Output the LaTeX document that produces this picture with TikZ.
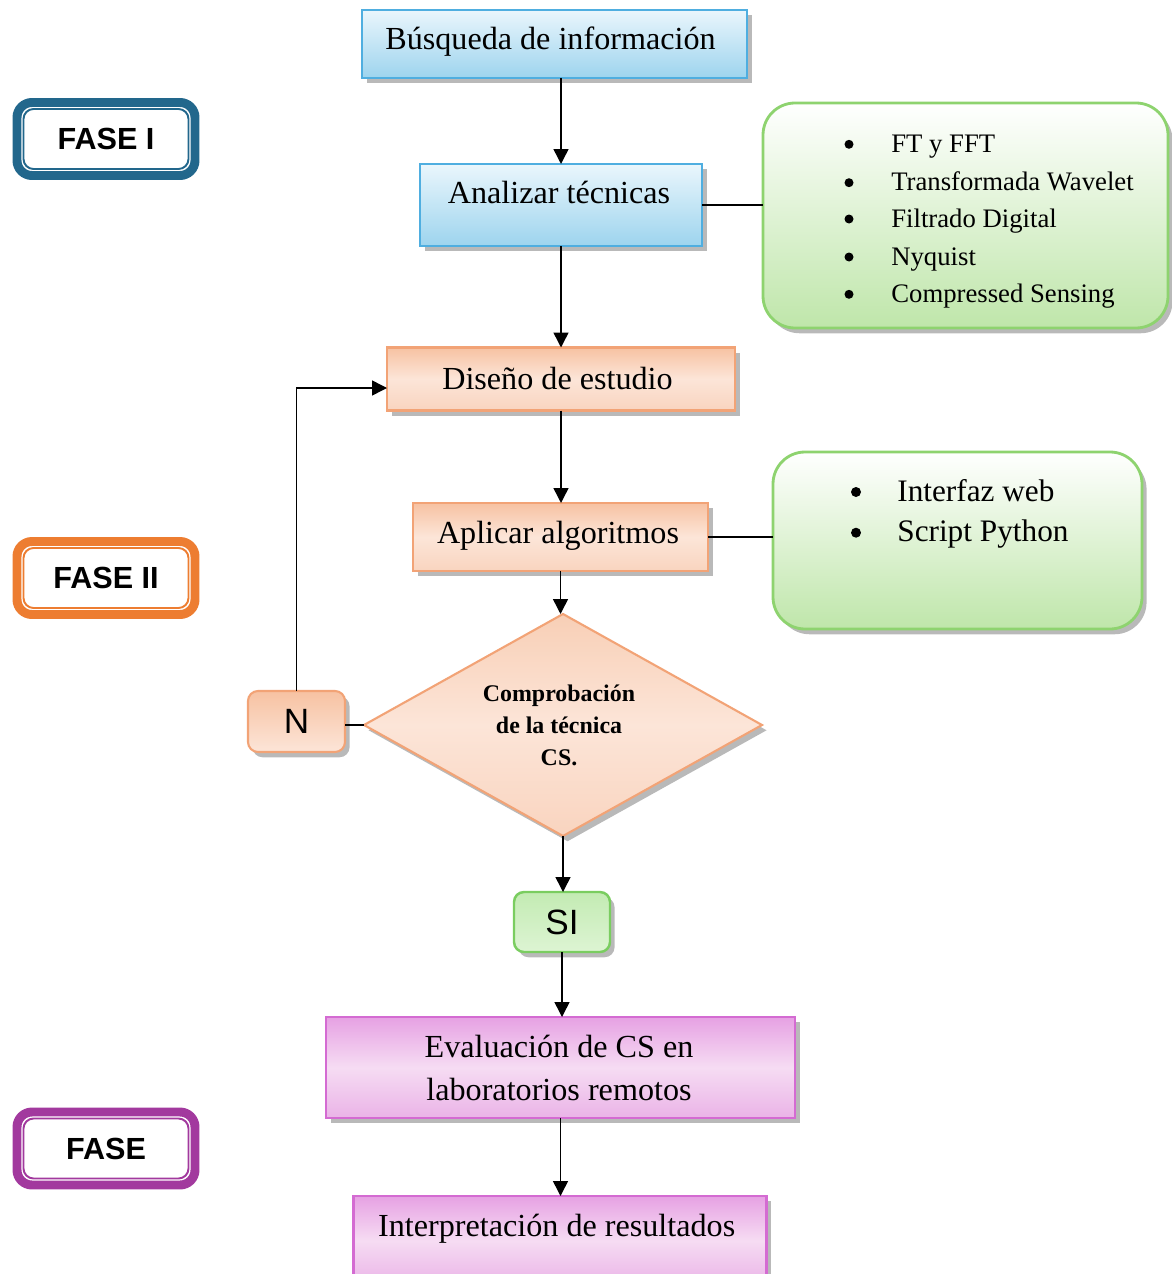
\documentclass[tikz,border=0pt]{standalone}
\usepackage{fontspec}
\setmainfont{Liberation Serif}
\newfontfamily\labelsans{Liberation Sans}
\usetikzlibrary{shapes.geometric, shadows, calc, arrows.meta}

% colours
\definecolor{bluel}{HTML}{4FAEE0}
\definecolor{bluetop}{HTML}{EAF6FC}
\definecolor{bluebot}{HTML}{9DD4EE}
\definecolor{orl}{HTML}{F2A376}
\definecolor{ortop}{HTML}{F7C2A2}
\definecolor{ormid}{HTML}{FCE5D8}
\definecolor{orbot}{HTML}{F9D4BF}
\definecolor{dmtop}{HTML}{F8CFB6}
\definecolor{magl}{HTML}{D46BD2}
\definecolor{magtop}{HTML}{E6A1E3}
\definecolor{magmid}{HTML}{F6DCF3}
\definecolor{magbot}{HTML}{EAB3E7}
\definecolor{grl}{HTML}{8ED36F}
\definecolor{grbot}{HTML}{BFE6AA}
\definecolor{sil}{HTML}{7ACD60}
\definecolor{sitop}{HTML}{C3EBB3}
\definecolor{sibot}{HTML}{DDF4D3}
\definecolor{phaseone}{HTML}{22678C}
\definecolor{phasetwo}{HTML}{ED7D31}
\definecolor{phasethree}{HTML}{A2399E}

\def\unitpx{0.02cm}

\tikzset{
  shade box/.style={draw, rectangle, inner sep=0pt, outer sep=0pt,
    drop shadow={shadow xshift=2.6pt, shadow yshift=-3pt, fill=black!50, opacity=.55}},
  bluebox/.style={shade box, draw=bluel, line width=1.4pt, top color=bluetop, bottom color=bluebot},
  orangebox/.style={shade box, draw=orl, line width=1.2pt, top color=ortop, bottom color=orbot, middle color=ormid},
  magbox/.style={shade box, draw=magl, line width=1.4pt, top color=magtop, bottom color=magbot, middle color=magmid},
  panel/.style={shade box, draw=grl, line width=1.6pt, rounded corners=0.64cm, top color=white, bottom color=grbot},
  phasebox/.style={draw=#1, line width=5.1pt, rectangle, rounded corners=0.3cm, inner sep=0pt, outer sep=0pt,
    minimum width=178*\unitpx, minimum height=73*\unitpx, fill=white,
    font=\labelsans\bfseries\fontsize{17.4}{20}\selectfont},
  maintext/.style={anchor=base, font=\fontsize{18.3}{22}\selectfont},
  listone/.style={font=\fontsize{15.2}{18}\selectfont},
  listtwo/.style={font=\fontsize{17.8}{21}\selectfont},
  dot/.style={circle, fill=black, inner sep=0pt, minimum size=#1*\unitpx},
  conn/.style={line width=0.85pt, -{Triangle[length=8.5pt,width=8.5pt]}},
  plain/.style={line width=0.85pt},
}

\begin{document}
\begin{tikzpicture}[x=0.02cm, y=-0.02cm]
\useasboundingbox (0,0) rectangle (1172,1274);
\clip (0,0) rectangle (1172,1274);

% phase labels
\node[phasebox=phaseone] (f1) at (106,139) {FASE I};
\draw[phaseone, line width=1.1pt, rounded corners=0.2cm] ($(f1.north west)+(6.5,6.5)$) rectangle ($(f1.south east)+(-6.5,-6.5)$);
\node[phasebox=phasetwo] (f2) at (106,578) {FASE II};
\draw[phasetwo, line width=1.1pt, rounded corners=0.2cm] ($(f2.north west)+(6.5,6.5)$) rectangle ($(f2.south east)+(-6.5,-6.5)$);
\node[phasebox=phasethree] (f3) at (106,1148.5) {FASE};
\draw[phasethree, line width=1.1pt, rounded corners=0.2cm] ($(f3.north west)+(6.5,6.5)$) rectangle ($(f3.south east)+(-6.5,-6.5)$);

% side panels
\node[panel, minimum width=405*\unitpx, minimum height=225*\unitpx] (g1) at (965.5,215.5) {};
\node[panel, minimum width=369*\unitpx, minimum height=177*\unitpx] (g2) at (957.5,540.5) {};

\foreach \txt/\yy [count=\i] in {FT y FFT/152.3, Transformada Wavelet/190.7, Filtrado Digital/227, Nyquist/265, Compressed Sensing/302.3}{
  \node[listone, anchor=base west, inner sep=0pt] (g1t\i) at (891,\yy) {\txt};
  \node[dot=9] (g1b\i) at (849,\yy-8) {};
}
\foreach \txt/\yy [count=\i] in {Interfaz web/501, Script Python/541.7}{
  \node[listtwo, anchor=base west, inner sep=0pt] (g2t\i) at (897,\yy) {\txt};
  \node[dot=10] (g2b\i) at (856,\yy-9) {};
}

% process boxes
\node[bluebox, minimum width=385*\unitpx, minimum height=68*\unitpx] (busq) at (554.5,44) {};
\node[maintext] (busq-t) at (550.5,49.3) {Búsqueda de información};

\node[bluebox, minimum width=282*\unitpx, minimum height=82*\unitpx] (anal) at (561,205) {};
\node[maintext] (anal-t) at (559,203.3) {Analizar técnicas};

\node[orangebox, minimum width=348*\unitpx, minimum height=63*\unitpx] (dise) at (561,379) {};
\node[maintext] (dise-t) at (557.5,389.3) {Diseño de estudio};

\node[orangebox, minimum width=295*\unitpx, minimum height=68*\unitpx] (apli) at (560.5,537) {};
\node[maintext] (apli-t) at (558,543.3) {Aplicar algoritmos};

\node[diamond, draw=orl, line width=1.2pt, inner sep=0pt, outer sep=0pt, shape aspect=1.79,
  minimum width=398*\unitpx, minimum height=222*\unitpx,
  top color=dmtop, bottom color=orbot, middle color=ormid,
  drop shadow={shadow xshift=2.6pt, shadow yshift=-3pt, fill=black!50, opacity=.55}] (diam) at (563,725) {};
\foreach \txt/\yy [count=\i] in {Comprobación/701.7, de la técnica/733.3, CS./765.7}{
  \node[anchor=base, font=\bfseries\fontsize{13.6}{16}\selectfont] (diam-t\i) at (559,\yy) {\txt};
}

\node[shade box, draw=orl, line width=1.2pt, rounded corners=0.2cm, top color=ortop, bottom color=ormid,
  minimum width=97*\unitpx, minimum height=61*\unitpx,
  font=\labelsans\fontsize{20}{24}\selectfont] (nbox) at (296.5,721.5) {N};

\node[shade box, draw=sil, line width=1.4pt, rounded corners=0.2cm, top color=sitop, bottom color=sibot,
  minimum width=96*\unitpx, minimum height=60*\unitpx,
  font=\labelsans\fontsize{20}{24}\selectfont] (si) at (562,922) {SI};

\node[magbox, minimum width=469*\unitpx, minimum height=101*\unitpx] (eval) at (560.5,1067.5) {};
\node[maintext] (eval-t1) at (559,1057.3) {Evaluación de CS en};
\node[maintext] (eval-t2) at (559,1100) {laboratorios remotos};

\node[magbox, minimum width=413*\unitpx, minimum height=89*\unitpx] (interp) at (560,1240.5) {};
\node[maintext] (interp-t) at (556.7,1236.7) {Interpretación de resultados};

% connectors
\draw[conn] (anal.north |- busq.south) -- (anal.north);
\draw[conn] (anal.south) -- (dise.north);
\draw[plain] (anal.east) -- (anal.east -| g1.west);
\draw[conn] (dise.south) -- (dise.south |- apli.north);
\draw[plain] (apli.east) -- (apli.east -| g2.west);
\draw[conn] (apli.south) -- (apli.south |- diam.north);
\draw[plain] (diam.west) -- (diam.west -| nbox.east);
\draw[conn] (nbox.north) |- ($(dise.west)+(0,9)$);
\draw[conn] (diam.south) -- (diam.south |- si.north);
\draw[conn] (si.south) -- (si.south |- eval.north);
\draw[conn] (eval.south) -- (eval.south |- interp.north);
\end{tikzpicture}
\end{document}
